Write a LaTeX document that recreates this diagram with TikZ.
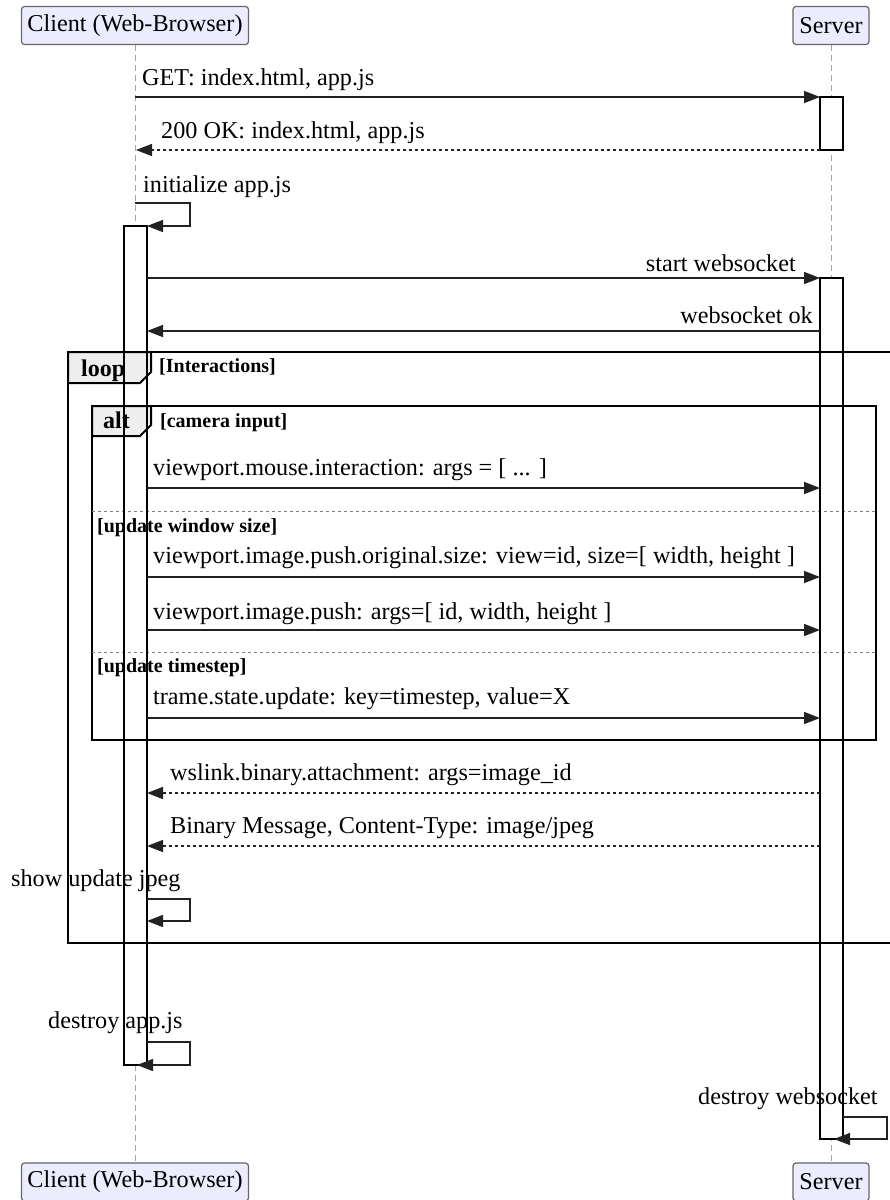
\documentclass[tikz,border=0pt]{standalone}
\usepackage{fontspec}
\setmainfont{Liberation Serif}
\usetikzlibrary{arrows.meta}
\definecolor{actfill}{HTML}{ECECFF}
\definecolor{actborder}{HTML}{666666}
\definecolor{lblfill}{HTML}{EEEEEE}
\definecolor{ink}{HTML}{222222}
\tikzset{
 actor/.style={draw=actborder, fill=actfill, rounded corners=3pt, line width=1.2pt, minimum height=38pt, inner sep=0pt, font=\fontsize{24.2}{28}\selectfont},
 lifeline/.style={draw=gray!70, line width=1pt, dash pattern=on 6pt off 4pt},
 actbox/.style={draw=black, line width=2pt},
 msg/.style={draw=ink, line width=1.5pt, -{Triangle[length=16pt,width=12pt]}},
 reply/.style={msg, dash pattern=on 3pt off 3pt},
 msgtext/.style={inner sep=0pt, font=\fontsize{24.2}{28}\selectfont},
 frameline/.style={draw=black, line width=2pt},
 framelbl/.style={draw=black, line width=2pt, fill=lblfill, line join=miter},
 framekw/.style={inner sep=0pt, font=\fontsize{24}{28}\selectfont\bfseries},
 cond/.style={inner sep=0pt, font=\fontsize{20}{24}\selectfont\bfseries},
 sepline/.style={draw=gray, line width=1pt, dash pattern=on 3pt off 3pt},
}
\begin{document}
\begin{tikzpicture}[x=1pt,y=-1pt]
\useasboundingbox (0,0) rectangle (890,1200);
\clip (0,0) rectangle (890,1200);
% actors
\node[actor, minimum width=227pt] (cTop) at (135,25.5) {Client (Web-Browser)};
\node[actor, minimum width=76pt] (sTop) at (831,25.5) {Server};
\node[actor, minimum width=227pt] (cBot) at (135,1182) {Client (Web-Browser)};
\node[actor, minimum width=76pt] (sBot) at (831,1182) {Server};
% lifelines
\draw[lifeline] (cTop.south) -- (cBot.north);
\draw[lifeline] (sTop.south) -- (sBot.north);
% activation fills
\fill[white] (820,97) rectangle (843,150);
\fill[white] (124,226) rectangle (147,1065);
\fill[white] (820,278) rectangle (843,1139);
% frames
\draw[frameline] (68,352) rectangle (900,943);
\draw[framelbl] (68,352) -- (151,352) -- (151,372) -- (140,383) -- (68,383) -- cycle;
\draw[frameline] (92,406) rectangle (876,740);
\draw[framelbl] (92,406) -- (151,406) -- (151,425) -- (140,436) -- (92,436) -- cycle;
\draw[sepline] (92,511) -- (876,511);
\draw[sepline] (92,652) -- (876,652);
% activation outlines
\draw[actbox] (820,97) rectangle (843,150);
\draw[actbox] (124,226) rectangle (147,1065);
\draw[actbox] (820,278) rectangle (843,1139);
% coordinates
\coordinate (c0) at (135,97);   \coordinate (s0) at (820,97);
\coordinate (s1) at (820,150);  \coordinate (c1) at (136,150);
\coordinate (c2) at (135,203);  \coordinate (c2r) at (190,203); \coordinate (c2b) at (190,226); \coordinate (c2e) at (147,226);
\coordinate (c3) at (147,278);  \coordinate (s3) at (820,278);
\coordinate (s4) at (820,331);  \coordinate (c4) at (147,331);
\coordinate (c5) at (147,488);  \coordinate (s5) at (820,488);
\coordinate (c6) at (147,577);  \coordinate (s6) at (820,577);
\coordinate (c7) at (147,630);  \coordinate (s7) at (820,630);
\coordinate (c8) at (147,718);  \coordinate (s8) at (820,718);
\coordinate (s9) at (820,793);  \coordinate (c9) at (147,793);
\coordinate (s10) at (820,846); \coordinate (c10) at (147,846);
\coordinate (c11) at (147,899); \coordinate (c11r) at (190,899); \coordinate (c11b) at (190,921); \coordinate (c11e) at (147,921);
\coordinate (c12) at (147,1042); \coordinate (c12r) at (190,1042); \coordinate (c12b) at (190,1065); \coordinate (c12e) at (137,1065);
\coordinate (s13) at (843,1117); \coordinate (s13r) at (887,1117); \coordinate (s13b) at (887,1139); \coordinate (s13e) at (834,1139);
% messages
\draw[msg] (c0) -- (s0);
\draw[reply] (s1) -- (c1);
\draw[msg] (c2) -- (c2r) -- (c2b) -- (c2e);
\draw[msg] (c3) -- (s3);
\draw[msg] (s4) -- (c4);
\draw[msg] (c5) -- (s5);
\draw[msg] (c6) -- (s6);
\draw[msg] (c7) -- (s7);
\draw[msg] (c8) -- (s8);
\draw[reply] (s9) -- (c9);
\draw[reply] (s10) -- (c10);
\draw[msg] (c11) -- (c11r) -- (c11b) -- (c11e);
\draw[msg] (c12) -- (c12r) -- (c12b) -- (c12e);
\draw[msg] (s13) -- (s13r) -- (s13b) -- (s13e);
% texts
\node[msgtext, anchor=base west] (t0) at (142,85) {GET: index.html, app.js};
\node[msgtext, anchor=base west] (t1) at (161,138) {200 OK: index.html, app.js};
\node[msgtext, anchor=base west] (t2) at (143,192) {initialize app.js};
\node[msgtext, anchor=base east] (t3) at (796,271) {start websocket};
\node[msgtext, anchor=base east] (t4) at (813,323) {websocket ok};
\node[framekw, anchor=base west] (kLoop) at (81,376) {loop};
\node[cond, anchor=base west] (cLoop) at (159,372) {[Interactions]};
\node[framekw, anchor=base west] (kAlt) at (103,428) {alt};
\node[cond, anchor=base west] (cAlt1) at (160,427) {[camera input]};
\node[msgtext, anchor=base west] (t5) at (153,475) {viewport.mouse.interaction: args = [ ... ]};
\node[cond, anchor=base west] (cAlt2) at (97,532) {[update window size]};
\node[msgtext, anchor=base west] (t6) at (153,563) {viewport.image.push.original.size: view=id, size=[ width, height ]};
\node[msgtext, anchor=base west] (t7) at (153,619) {viewport.image.push: args=[ id, width, height ]};
\node[cond, anchor=base west] (cAlt3) at (97,672) {[update timestep]};
\node[msgtext, anchor=base west] (t8) at (153,704) {trame.state.update: key=timestep, value=X};
\node[msgtext, anchor=base west] (t9) at (170,780) {wslink.binary.attachment: args=image\_id};
\node[msgtext, anchor=base west] (t10) at (170,833) {Binary Message, Content-Type: image/jpeg};
\node[msgtext, anchor=base west] (t11) at (11,886) {show update jpeg};
\node[msgtext, anchor=base west] (t12) at (48,1028) {destroy app.js};
\node[msgtext, anchor=base west] (t13) at (698,1104) {destroy websocket};
\end{tikzpicture}
\end{document}
